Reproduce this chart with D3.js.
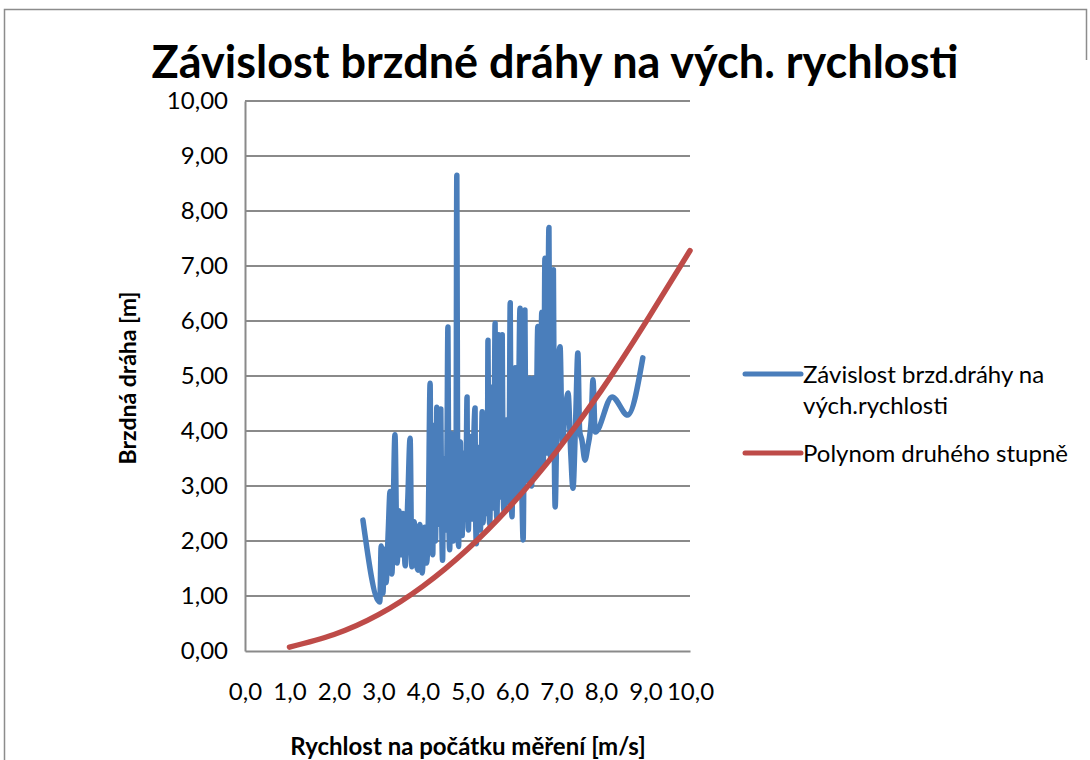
<!DOCTYPE html>
<html>
<head>
<meta charset="utf-8">
<script src="https://cdn.jsdelivr.net/npm/d3@7"></script>
<style>
  body { margin: 0; background: #fff; }
  svg { display: block; font-family: Lato, "Open Sans", sans-serif; }
</style>
</head>
<body>
<div id="chart"></div>
<script>
// measured series: speed [m/s] vs braking distance [m]
const speed = [2.65, 3.03, 3.06, 3.10, 3.13, 3.17, 3.22, 3.26, 3.30, 3.37, 3.42, 3.46, 3.50, 3.55, 3.60, 3.66,
  3.71, 3.75, 3.80, 3.84, 3.89, 3.93, 3.98, 4.04, 4.08, 4.12,
  4.16, 4.18, 4.20, 4.22, 4.24, 4.26, 4.28, 4.30, 4.31, 4.33, 4.35, 4.37, 4.40, 4.42, 4.44, 4.46, 4.48, 4.50,
  4.52, 4.54, 4.56, 4.58, 4.60, 4.62, 4.64, 4.66, 4.68, 4.70, 4.72, 4.74, 4.76, 4.78, 4.80, 4.82, 4.84, 4.86,
  4.88, 4.90, 4.93, 4.96, 4.99, 5.00, 5.02, 5.04, 5.06, 5.08, 5.10, 5.13, 5.17, 5.18, 5.20, 5.22, 5.25, 5.27,
  5.29, 5.31, 5.33, 5.34, 5.35, 5.38, 5.40, 5.42, 5.43, 5.45, 5.46, 5.48, 5.50, 5.52, 5.55, 5.57, 5.58, 5.60,
  5.62, 5.64, 5.66, 5.68, 5.70, 5.72, 5.74, 5.76, 5.78, 5.80, 5.82, 5.85, 5.87, 5.90, 5.92, 5.94, 5.96, 5.98,
  6.00, 6.02, 6.04, 6.07, 6.09, 6.11, 6.14, 6.18, 6.20, 6.22, 6.25, 6.27, 6.29, 6.31, 6.33, 6.36, 6.40, 6.42,
  6.44, 6.46, 6.49, 6.51, 6.53, 6.55, 6.58, 6.60, 6.62, 6.64, 6.67, 6.69, 6.70, 6.72, 6.74, 6.76, 6.78, 6.80,
  6.83, 6.85, 6.87, 6.90, 6.93, 6.95, 6.97,
  7.02, 7.08, 7.13, 7.20, 7.26, 7.32, 7.37, 7.43, 7.48, 7.52, 7.57, 7.64, 7.70, 7.78, 7.82, 7.87, 8.25, 8.60, 8.94];
const distance = [2.38, 0.89, 1.91, 1.05, 1.85, 1.24, 2.20, 2.90, 1.40, 3.93, 1.60, 2.55, 1.75, 2.50, 1.55, 2.80,
  3.87, 1.53, 2.35, 1.70, 1.47, 2.30, 1.42, 2.25, 1.60, 2.40,
  4.87, 2.10, 3.60, 1.75, 4.10, 2.60, 2.00, 3.40, 4.43, 2.30, 2.69, 3.90, 4.40, 2.40, 1.65, 3.20, 3.50, 2.60,
  2.20, 3.80, 5.89, 2.50, 1.84, 3.40, 3.95, 2.30, 2.00, 3.30, 3.70, 2.40, 8.65, 2.70, 1.90, 3.50, 3.80, 2.30,
  2.10, 3.20, 3.60, 2.50, 4.62, 2.90, 2.20, 3.40, 3.90, 2.70, 2.40, 3.50, 4.42, 2.60, 1.95, 3.10, 3.70, 2.60,
  2.20, 3.30, 4.35, 2.80, 2.33, 3.30, 4.00, 2.90, 2.50, 3.60, 5.65, 3.00, 2.30, 3.50, 4.80, 3.10, 2.60, 3.80,
  5.96, 3.20, 2.40, 3.70, 5.75, 3.30, 2.80, 4.00, 5.75, 3.00, 2.55, 3.60, 4.20, 3.10, 2.70, 3.90, 6.33, 3.20,
  2.44, 3.60, 4.50, 5.15, 3.30, 2.80, 3.80, 6.23, 3.40, 2.90, 2.02, 3.70, 6.20, 3.60, 3.10, 4.00, 4.96, 3.50,
  3.00, 4.20, 4.96, 3.60, 3.20, 4.30, 5.90, 3.70, 3.30, 4.50, 6.16, 3.90, 3.40, 4.60, 7.14, 4.00, 3.60, 5.00,
  7.70, 4.20, 3.50, 5.20, 6.93, 3.80, 2.62,
  4.80, 5.53, 3.80, 4.40, 4.69, 3.60, 2.96, 4.20, 5.42, 4.00, 3.84, 3.47, 3.70, 4.20, 4.93, 3.98, 4.62, 4.29, 5.33];

// second degree polynomial trend
const polySpeed = [1, 2, 3, 4, 5, 6, 7, 8, 9, 10];
const polyDistance = [0.07, 0.30, 0.66, 1.18, 1.85, 2.67, 3.63, 4.73, 5.97, 7.28];

const xTicks = [0, 1, 2, 3, 4, 5, 6, 7, 8, 9, 10];
const yTicks = [0, 1, 2, 3, 4, 5, 6, 7, 8, 9, 10];

const seriesNames = ["Závislost brzd.dráhy na vých.rychlosti", "Polynom druhého stupně"];
const seriesColors = ["#4a7ebb", "#be4b48"];

const width = 1090, height = 760;

const svg = d3.select("#chart").append("svg")
  .attr("width", width)
  .attr("height", height);

// chart border
svg.append("path")
  .attr("d", "M4.5,760 V9.5 H1086.5 V60")
  .attr("fill", "none")
  .attr("stroke", "#8c8c8c")
  .attr("stroke-width", 1.5);

const x = d3.scaleLinear().domain([0, 10]).range([245, 690]);
const y = d3.scaleLinear().domain([0, 10]).range([651, 101]);

const fmt1 = d => d3.format(".1f")(d).replace(".", ",");
const fmt2 = d => d3.format(".2f")(d).replace(".", ",");

// grid
svg.append("g")
  .selectAll("line")
  .data(yTicks.slice(1))
  .join("line")
    .attr("x1", x(0)).attr("x2", x(10))
    .attr("y1", d => y(d)).attr("y2", d => y(d))
    .attr("stroke", "#8a8a8a")
    .attr("stroke-width", 2);

// y axis
const yAxis = svg.append("g")
  .attr("transform", `translate(${x(0)},0)`)
  .call(d3.axisLeft(y).tickValues(yTicks).tickFormat(fmt2).tickSize(0).tickPadding(17));
yAxis.select(".domain").attr("stroke", "#8a8a8a").attr("stroke-width", 2);
yAxis.selectAll("text").attr("font-size", 24).attr("fill", "#000").attr("font-family", "Lato");

// x axis
const xAxis = svg.append("g")
  .attr("transform", `translate(0,${y(0)})`)
  .call(d3.axisBottom(x).tickValues(xTicks).tickFormat(fmt1).tickSize(0).tickPadding(32));
xAxis.select(".domain").attr("stroke", "#8a8a8a").attr("stroke-width", 2);
xAxis.selectAll("text").attr("font-size", 24).attr("fill", "#000").attr("font-family", "Lato");

// series
const line = d3.line()
  .x(d => x(d[0]))
  .y(d => y(d[1]))
  .curve(d3.curveMonotoneX);

svg.append("path")
  .datum(d3.zip(speed, distance))
  .attr("d", line)
  .attr("fill", "none")
  .attr("stroke", seriesColors[0])
  .attr("stroke-width", 5.5)
  .attr("stroke-linejoin", "round")
  .attr("stroke-linecap", "round");

svg.append("path")
  .datum(d3.zip(polySpeed, polyDistance))
  .attr("d", line.curve(d3.curveNatural))
  .attr("fill", "none")
  .attr("stroke", seriesColors[1])
  .attr("stroke-width", 5.5)
  .attr("stroke-linecap", "round");

// title
svg.append("text")
  .attr("x", 555).attr("y", 78)
  .attr("text-anchor", "middle")
  .attr("font-size", 45)
  .attr("font-weight", "bold")
  .text("Závislost brzdné dráhy na vých. rychlosti");

// axis titles
svg.append("text")
  .attr("transform", "translate(136,378) rotate(-90)")
  .attr("text-anchor", "middle")
  .attr("font-size", 23)
  .attr("font-weight", "bold")
  .text("Brzdná dráha [m]");

svg.append("text")
  .attr("x", 468).attr("y", 755)
  .attr("text-anchor", "middle")
  .attr("font-size", 24)
  .attr("font-weight", "bold")
  .text("Rychlost na počátku měření [m/s]");

// legend
const legend = svg.append("g");
const legendRows = [
  {lines: ["Závislost brzd.dráhy na", "vých.rychlosti"], y: 374},
  {lines: [seriesNames[1]], y: 453}
];
legendRows.forEach((row, i) => {
  legend.append("line")
    .attr("x1", 745).attr("x2", 801)
    .attr("y1", row.y).attr("y2", row.y)
    .attr("stroke", seriesColors[i])
    .attr("stroke-width", 5)
    .attr("stroke-linecap", "round");
  row.lines.forEach((t, j) => {
    legend.append("text")
      .attr("x", 803).attr("y", row.y + 9 + j * 31)
      .attr("font-size", 24)
      .text(t);
  });
});
</script>
</body>
</html>
